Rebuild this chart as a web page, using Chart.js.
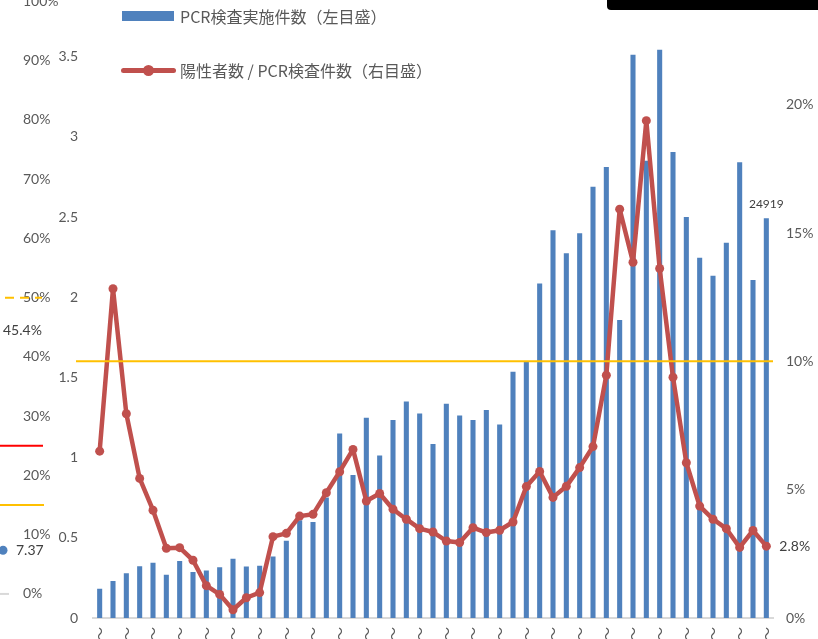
<!DOCTYPE html>
<html lang="ja">
<head>
<meta charset="utf-8">
<script src="https://cdn.jsdelivr.net/npm/chart.js@4.4.0/dist/chart.umd.min.js"></script>
<style>
  html, body { margin: 0; padding: 0; background: #fff; overflow: hidden; }
  body { width: 818px; height: 639px; position: relative; }
  #wrap { position: absolute; left: 0; top: -47px; width: 818px; height: 708px; }
  .lg { position: absolute; left: 180px; color: #595959; font: 16px "Noto Sans CJK JP", sans-serif; line-height: 18px; white-space: nowrap; }
  #sw1 { position: absolute; left: 122px; top: 11px; width: 52px; height: 10px; background: #4F81BD; }
  #sw2 { position: absolute; left: 121px; top: 68px; width: 55px; height: 5px; background: #C0504D; border-radius: 3px; }
  #sw2dot { position: absolute; left: 143px; top: 65px; width: 11px; height: 11px; background: #C0504D; border-radius: 50%; }
  #blackbar { position: absolute; left: 607px; top: 0; width: 211px; height: 10px; background: #000; border-bottom-left-radius: 4px; }
</style>
</head>
<body>
<div id="wrap"><canvas id="pcrChart"></canvas></div>
<div id="sw1"></div>
<div class="lg" style="top:7px">PCR検査実施件数（左目盛）</div>
<div id="sw2"></div><div id="sw2dot"></div>
<div class="lg" style="top:61px">陽性者数 / PCR検査件数（右目盛）</div>
<div id="blackbar"></div>
<script>
// weekly categories (only the "〜" part of each label is visible)
const weeks = [
  "〜", "〜", "〜", "〜", "〜", "〜", "〜", "〜", "〜", "〜",
  "〜", "〜", "〜", "〜", "〜", "〜", "〜", "〜", "〜", "〜",
  "〜", "〜", "〜", "〜", "〜", "〜", "〜", "〜", "〜", "〜",
  "〜", "〜", "〜", "〜", "〜", "〜", "〜", "〜", "〜", "〜",
  "〜", "〜", "〜", "〜", "〜", "〜", "〜", "〜", "〜", "〜", "〜"
];

// PCR tests per week (left axis shows units of 10,000)
const tests = [
  1830, 2310, 2790, 3230, 3440, 2690, 3560, 2870, 2960, 3170,
  3690, 3210, 3250, 3830, 4810, 6100, 5980, 7520, 11500, 8920,
  12480, 10125, 12350, 13500, 12750, 10850, 13350, 12625, 12350, 12960,
  12060, 15360, 15990, 20860, 24180, 22740, 23990, 26890, 28110, 18580,
  35120, 28500, 35420, 29050, 25000, 22460, 21330, 23400, 28410, 21080, 24919
];

// positives / tests (%)
const positiveRate = [
  6.50, 12.83, 7.96, 5.44, 4.20, 2.72, 2.74, 2.25, 1.26, 0.92,
  0.32, 0.79, 0.99, 3.17, 3.30, 3.97, 4.04, 4.88, 5.70, 6.57,
  4.56, 4.85, 4.24, 3.85, 3.48, 3.35, 3.00, 2.94, 3.52, 3.33,
  3.42, 3.74, 5.12, 5.71, 4.70, 5.13, 5.86, 6.68, 9.46, 15.93,
  13.86, 19.38, 13.62, 9.38, 6.05, 4.36, 3.85, 3.48, 2.75, 3.41, 2.8
];

const alertRate = 10;
const pctTicks = [0, 10, 20, 30, 40, 50, 60, 70, 80, 90, 100];

// leftovers of the neighbouring chart (on the 0-100% scale)
const refLevels = [50, 25, 15, 0];
const refPoint = 7.37;
const refLabel = 45.4;

const grey = "#595959";
const numFont = { family: "Lato, 'Noto Sans CJK JP', sans-serif", size: 14 };

const extras = {
  id: "extras",
  afterDatasetsDraw(chart) {
    const ctx = chart.ctx;
    const yRate = chart.scales.yRate;
    const yPct = chart.scales.yPct;
    ctx.save();

    // 10% guide line
    const y10 = yRate.getPixelForValue(alertRate);
    ctx.strokeStyle = "#FFC000";
    ctx.lineWidth = 2;
    ctx.beginPath();
    ctx.moveTo(76, y10);
    ctx.lineTo(chart.chartArea.right, y10);
    ctx.stroke();

    // fragments at the far left
    const styles = [
      { color: "#FFC000", from: 5, to: 42, dash: [9, 6] },
      { color: "#FF0000", from: 0, to: 43, dash: [] },
      { color: "#FFC000", from: 0, to: 44, dash: [] },
      { color: "#D9D9D9", from: 0, to: 9, dash: [] }
    ];
    refLevels.forEach((v, i) => {
      const s = styles[i];
      const y = yPct.getPixelForValue(v);
      ctx.strokeStyle = s.color;
      ctx.setLineDash(s.dash);
      ctx.beginPath();
      ctx.moveTo(s.from, y);
      ctx.lineTo(s.to, y);
      ctx.stroke();
    });
    ctx.setLineDash([]);

    const yp = yPct.getPixelForValue(refPoint);
    ctx.fillStyle = "#4F81BD";
    ctx.beginPath();
    ctx.arc(3, yp, 4.5, 0, Math.PI * 2);
    ctx.fill();
    ctx.fillStyle = "#404040";
    ctx.font = "14px Lato, sans-serif";
    ctx.textBaseline = "middle";
    ctx.textAlign = "left";
    ctx.fillText(String(refPoint), 16, yp);
    ctx.fillText(refLabel + "%", 3, yPct.getPixelForValue(refLabel) + 6);

    // data labels on the last week
    const barMeta = chart.getDatasetMeta(0).data;
    const lineMeta = chart.getDatasetMeta(1).data;
    const lastBar = barMeta[barMeta.length - 1];
    const lastPt = lineMeta[lineMeta.length - 1];
    ctx.font = "12px Lato, sans-serif";
    ctx.textAlign = "center";
    ctx.fillText(String(tests[tests.length - 1]), lastBar.x, lastBar.y - 14);
    ctx.font = "14px Lato, sans-serif";
    ctx.textAlign = "left";
    ctx.fillText(positiveRate[positiveRate.length - 1].toFixed(1) + "%", lastPt.x + 13, lastPt.y);
    ctx.restore();
  }
};

(function() {
  const ctx = document.getElementById("pcrChart").getContext("2d");
  window.pcrChart = new Chart(ctx, {
    type: "bar",
    data: {
      labels: weeks,
      datasets: [
        {
          type: "bar",
          label: "PCR検査実施件数（左目盛）",
          data: tests,
          yAxisID: "yTests",
          backgroundColor: "#4F81BD",
          categoryPercentage: 1,
          barPercentage: 0.38,
          order: 2
        },
        {
          type: "line",
          label: "陽性者数 / PCR検査件数（右目盛）",
          data: positiveRate,
          yAxisID: "yRate",
          borderColor: "#C0504D",
          backgroundColor: "#C0504D",
          borderWidth: 4.5,
          borderCapStyle: "round",
          borderJoinStyle: "round",
          pointRadius: 4.5,
          pointBorderWidth: 0,
          tension: 0,
          order: 1
        }
      ]
    },
    options: {
      responsive: true,
      maintainAspectRatio: false,
      animation: false,
      layout: { padding: { left: 23, top: 11, right: 0, bottom: 0 } },
      plugins: {
        legend: { display: false },
        tooltip: { enabled: false }
      },
      scales: {
        x: {
          offset: true,
          clip: false,
          grid: { display: false },
          border: { display: true, color: "#D9D9D9", width: 2 },
          ticks: {
            autoSkip: false,
            minRotation: 90,
            maxRotation: 90,
            padding: 1,
            color: grey,
            font: { family: "'Noto Sans CJK JP', sans-serif", size: 14 },
            callback: (v, i) => (i % 2 === 0 ? weeks[i] : "")
          },
          afterFit: s => { s.height = 43; }
        },
        yTests: {
          position: "left",
          weight: 0,
          min: 0,
          max: 40000,
          clip: false,
          grid: { display: false, drawTicks: false },
          border: { display: false },
          ticks: {
            stepSize: 5000,
            padding: 15,
            color: grey,
            font: numFont,
            callback: v => String(v / 10000)
          },
          afterFit: s => { s.width = 34; }
        },
        yPct: {
          position: "left",
          weight: 1,
          min: -4.06,
          max: 104.23,
          clip: false,
          grid: { display: false, drawTicks: false },
          border: { display: false },
          ticks: {
            crossAlign: "far",
            color: grey,
            font: numFont,
            callback: v => v + "%"
          },
          afterBuildTicks: s => { s.ticks = pctTicks.map(v => ({ value: v })); },
          afterFit: s => { s.width = 36; }
        },
        yRate: {
          position: "right",
          min: 0,
          max: 25,
          clip: false,
          grid: { display: false, drawTicks: false },
          border: { display: false },
          ticks: {
            stepSize: 5,
            padding: 13,
            color: grey,
            font: numFont,
            callback: v => v + "%"
          },
          afterFit: s => { s.width = 45; }
        }
      }
    },
    plugins: [extras]
  });
})();
</script>
</body>
</html>
